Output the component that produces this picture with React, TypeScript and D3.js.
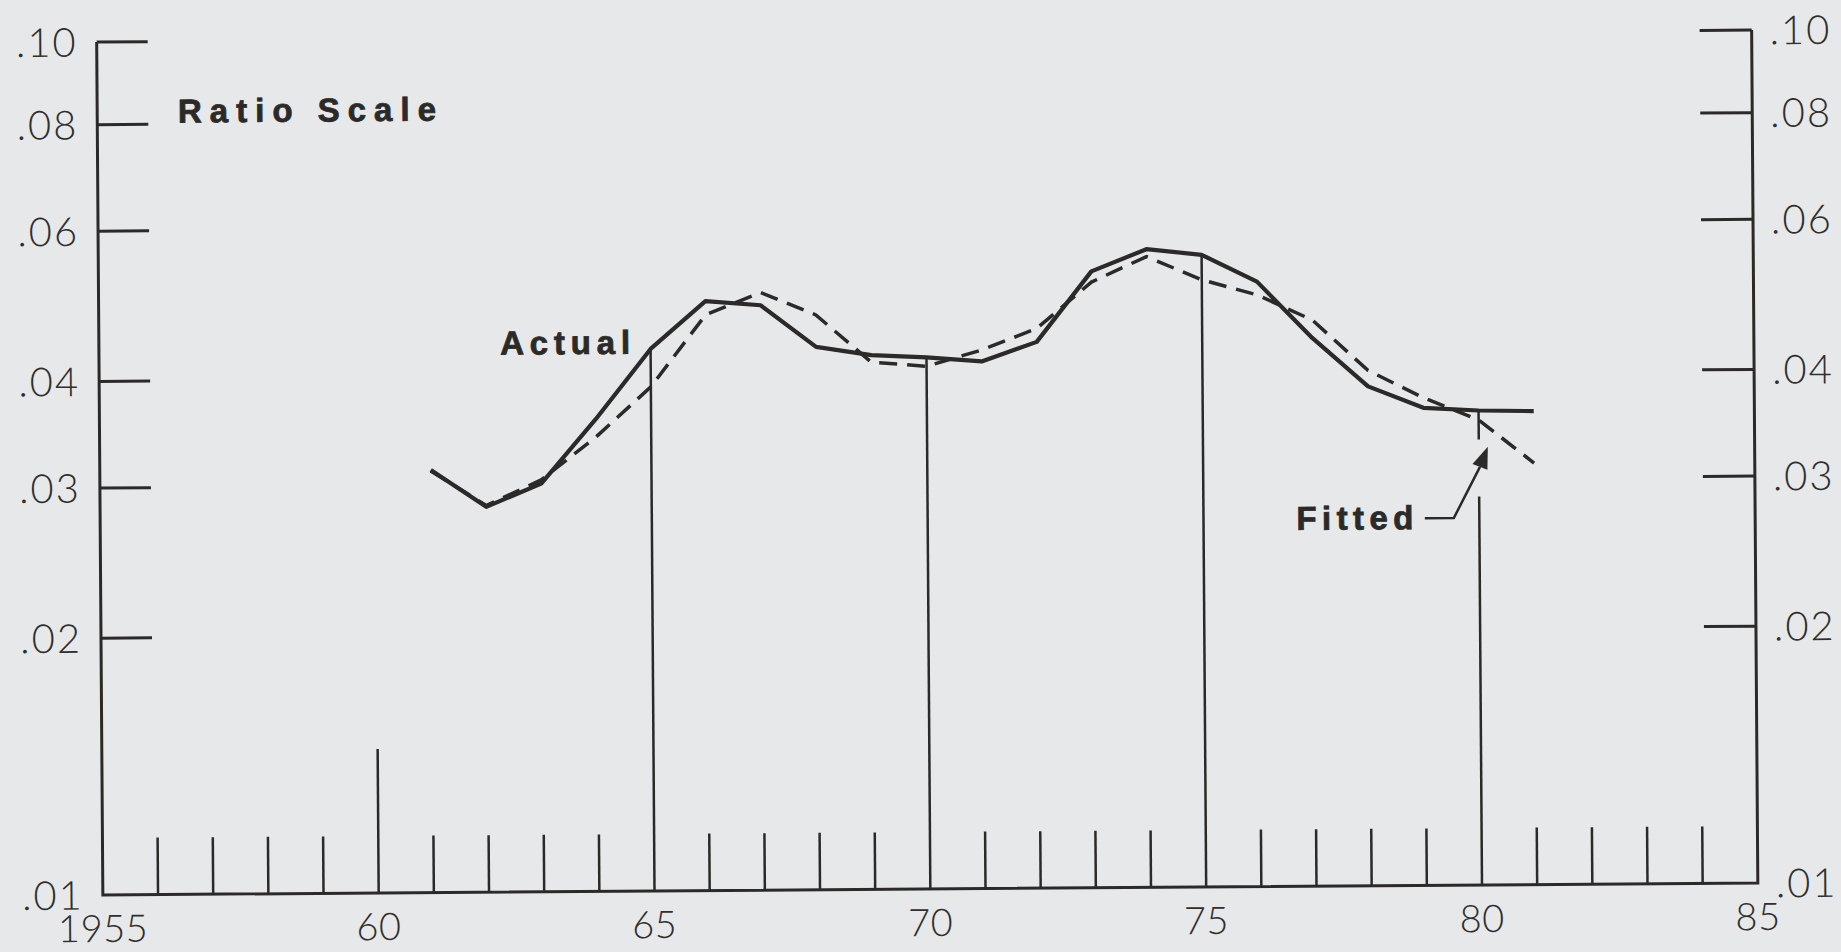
import React from "react";
import * as d3 from "d3";

// data (ratio scale)
const years = [1961, 1962, 1963, 1964, 1965, 1966, 1967, 1968, 1969, 1970, 1971, 1972, 1973, 1974, 1975, 1976, 1977, 1978, 1979, 1980, 1981];
const actual = [0.0313, 0.0283, 0.0301, 0.0358, 0.0432, 0.0491, 0.0485, 0.0433, 0.0423, 0.042, 0.0415, 0.0437, 0.0528, 0.056, 0.0551, 0.0512, 0.0439, 0.0385, 0.0363, 0.036, 0.0359];
const fitted = [0.0312, 0.0284, 0.0304, 0.0341, 0.039, 0.0473, 0.0502, 0.0472, 0.0415, 0.041, 0.0428, 0.0453, 0.0513, 0.0549, 0.0515, 0.0494, 0.0461, 0.0402, 0.0373, 0.0351, 0.0312];

const yTicks = [0.1, 0.08, 0.06, 0.04, 0.03, 0.02, 0.01];
const yTickLabels = [".10", ".08", ".06", ".04", ".03", ".02", ".01"];
const xLabelYears = [1955, 1960, 1965, 1970, 1975, 1980, 1985];
const xLabels = ["1955", "60", "65", "70", "75", "80", "85"];
const majorYears = [1960, 1965, 1970, 1975, 1980];

const W = 1841;
const H = 952;
const left = 99.75;
const right = 1754.75;
const top = 36;
const bottom = 889;
const ink = "#2b2a28";
const labelFont = "Lato, 'Liberation Sans', sans-serif";
const boldFont = "'Liberation Sans', Arial, sans-serif";

export default function App() {
  const x = d3.scaleLinear().domain([1955, 1985]).range([left, right]);
  const y = d3.scaleLog().domain([0.01, 0.1]).range([bottom, top]);

  const line = d3
    .line<number>()
    .x((d, i) => x(years[i]))
    .y((d) => y(d));

  const minorYears = d3.range(1956, 1985).filter((yr) => !majorYears.includes(yr));

  const valAt = (yr: number) => actual[years.indexOf(yr)];

  // arrow for "Fitted" label, anchored to the fitted 1980 point
  const fx = x(1980);
  const fy = y(fitted[years.indexOf(1980)]);
  const tip = [fx + 9, fy + 27];
  const baseMid = [fx + 1, fy + 47];
  const perp = [0.928, 0.371];

  const a80 = y(valAt(1980));

  return (
    <svg
      width={W}
      height={H}
      style={{ position: "absolute", top: 0, left: 0, background: "#e6e8ea" }}
    >
      <rect width={W} height={H} fill="#e6e8ea" />
      {/* the scan is tilted slightly, so draw the whole thing rotated */}
      <g transform="rotate(-0.415 927.25 462.5)">
        <path
          d={`M${left},${top}V${bottom}H${right}V${top}`}
          fill="none"
          stroke={ink}
          strokeWidth={3}
        />

        {/* y ticks both sides */}
        {yTicks.slice(0, -1).map((t) => (
          <g key={t}>
            <line x1={left} x2={left + 51} y1={y(t)} y2={y(t)} stroke={ink} strokeWidth={3} />
            <line x1={right - 52} x2={right} y1={y(t)} y2={y(t)} stroke={ink} strokeWidth={3} />
          </g>
        ))}
        {yTicks.map((t, i) => (
          <g key={"l" + t} fontFamily={labelFont} fontWeight={300} fontSize={40} fill="#302f2c">
            <text x={left - 19} y={y(t)} dy="0.36em" textAnchor="end" letterSpacing={2}>
              {yTickLabels[i]}
            </text>
            <text x={right + 18} y={y(t)} dy="0.36em" letterSpacing={2}>
              {yTickLabels[i]}
            </text>
          </g>
        ))}

        {/* x ticks */}
        {minorYears.map((yr) => (
          <line key={yr} x1={x(yr)} x2={x(yr)} y1={bottom} y2={bottom - 57} stroke={ink} strokeWidth={2.5} />
        ))}
        <line x1={x(1960)} x2={x(1960)} y1={bottom} y2={bottom - 144} stroke={ink} strokeWidth={2.5} />
        {[1965, 1970, 1975].map((yr) => (
          <line key={yr} x1={x(yr)} x2={x(yr)} y1={bottom} y2={y(valAt(yr))} stroke={ink} strokeWidth={2.5} />
        ))}
        <line x1={x(1980)} x2={x(1980)} y1={a80} y2={a80 + 29} stroke={ink} strokeWidth={2.5} />
        <line x1={x(1980)} x2={x(1980)} y1={a80 + 86} y2={bottom} stroke={ink} strokeWidth={2.5} />

        {xLabelYears.map((yr, i) => (
          <text
            key={yr}
            x={x(yr)}
            y={bottom + 47}
            textAnchor="middle"
            fontFamily={labelFont}
            fontWeight={300}
            fontSize={38}
            letterSpacing={0.5}
            fill="#302f2c"
          >
            {xLabels[i]}
          </text>
        ))}

        {/* series */}
        <path d={line(fitted) || ""} fill="none" stroke={ink} strokeWidth={3.5} strokeDasharray="18 10" />
        <path d={line(actual) || ""} fill="none" stroke={ink} strokeWidth={4.2} strokeLinejoin="round" />

        {/* labels */}
        <g fontFamily={boldFont} fontWeight="bold" fontSize={33} fill={ink} stroke={ink} strokeWidth={0.8}>
          <text x={180.5} y={117} textLength={258} lengthAdjust="spacing">Ratio Scale</text>
          <text x={501} y={351.5} textLength={130} lengthAdjust="spacing">Actual</text>
          <text x={1296} y={532.5} textLength={117} lengthAdjust="spacing">Fitted</text>
        </g>

        {/* arrow */}
        <path
          d={`M${fx - 54.5},${fy + 98}H${fx - 25.5}L${baseMid[0]},${baseMid[1]}`}
          fill="none"
          stroke={ink}
          strokeWidth={2.5}
        />
        <path
          d={`M${tip[0]},${tip[1]}L${baseMid[0] + 8 * perp[0]},${baseMid[1] + 8 * perp[1]}L${baseMid[0] - 8 * perp[0]},${baseMid[1] - 8 * perp[1]}Z`}
          fill={ink}
        />
      </g>
    </svg>
  );
}
